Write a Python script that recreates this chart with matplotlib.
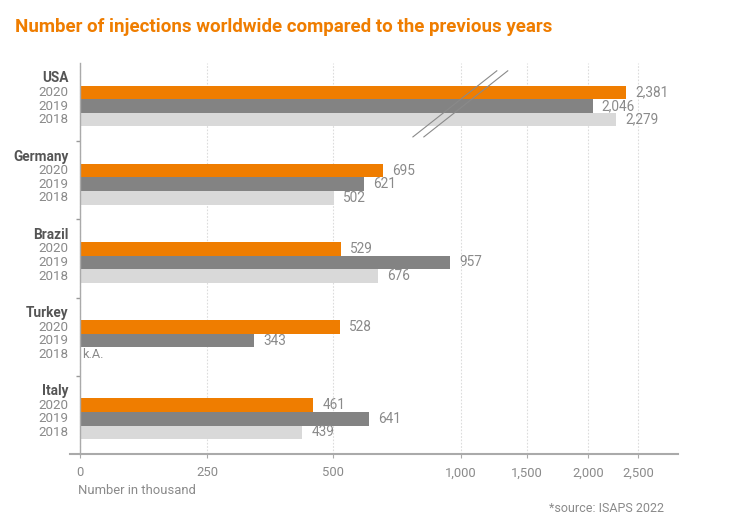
import numpy as np
import matplotlib
matplotlib.use("Agg")
import matplotlib.pyplot as plt
import matplotlib.transforms as mtransforms

# --- Daten ---
countries = ["USA", "Germany", "Brazil", "Turkey", "Italy"]
years = ["2020", "2019", "2018"]
values_2020 = [2381, 695, 529, 528, 461]
values_2019 = [2046, 621, 957, 343, 641]
values_2018 = [2279, 502, 676, None, 439]   # None = keine Angabe (k.A.)
xticks = [0, 250, 500, 1000, 1500, 2000, 2500]
colors = ["#EF7D00", "#838383", "#D9D9D9"]

# gebrochene Achse: Datenwert -> Position (Pixel ab Nulllinie)
scale_vals = [-100, 0, 250, 500, 1000, 1500, 2000, 2500, 3000]
scale_pos = [-50.8, 0, 127, 253, 381, 447, 508, 558, 606]


def fwd(x):
    return np.interp(x, scale_vals, scale_pos)


def inv(p):
    return np.interp(p, scale_pos, scale_vals)


plt.rcParams["font.family"] = ["Roboto", "DejaVu Sans"]

W, H = 730, 529
fig = plt.figure(figsize=(W / 100, H / 100), dpi=100)
ax = fig.add_axes([70 / W, 75 / H, 608 / W, 391 / H])
ax.set_xscale("function", functions=(fwd, inv))
ax.set_xlim(-20, inv(598))
ax.set_ylim(len(countries), 0)

bar_h = 0.174
offsets = [0.377, 0.551, 0.725]
series = [values_2020, values_2019, values_2018]

lab_trans = mtransforms.blended_transform_factory(ax.transAxes, ax.transData)

for i, country in enumerate(countries):
    ax.text(-0.002, i + 0.196, country, transform=lab_trans, ha="right", va="center",
            fontsize=9.8, fontweight="bold", color="#555555")
    for j, vals in enumerate(series):
        y = i + offsets[j]
        ax.text(-0.002, y, years[j], transform=lab_trans, ha="right", va="center",
                fontsize=9.6, color="#8a8a8a")
        v = vals[i]
        if v is None:
            ax.annotate("k.A.", (0, y), xytext=(1.5, 0), textcoords="offset points",
                        ha="left", va="center", fontsize=9.2, color="#8a8a8a")
            continue
        ax.barh(y, v, height=bar_h, left=0, color=colors[j], zorder=2)
        ax.annotate(f"{v:,}", (v, y), xytext=(6.5, 0), textcoords="offset points",
                    ha="left", va="center", fontsize=9.8, color="#8a8a8a")

# Achsen
ax.set_xticks(xticks)
ax.set_xticklabels([f"{t:,}" for t in xticks])
ax.tick_params(axis="x", length=3, width=0.8, color="#aaaaaa", pad=6,
               labelsize=9.4, labelcolor="#8a8a8a")
ax.set_yticks([])
ax.set_yticks([1, 2, 3, 4], minor=True)
ax.tick_params(axis="y", which="minor", length=3, width=1, color="#999999", direction="out")

ax.grid(axis="x", color="#dcdcdc", linestyle=(0, (1.5, 1.5)), linewidth=0.8, zorder=0)
ax.set_axisbelow(True)

for s in ["top", "right"]:
    ax.spines[s].set_visible(False)
ax.spines["left"].set_position(("data", 0))
ax.spines["left"].set_color("#aaaaaa")
ax.spines["left"].set_linewidth(1.0)
ax.spines["bottom"].set_color("#aaaaaa")
ax.spines["bottom"].set_linewidth(1.5)

# Markierung des Achsenbruchs
for dx in (0.0, 0.018):
    ax.plot([0.564 + dx, 0.702 + dx], [0.811, 0.980], transform=ax.transAxes,
            color="#8a8a8a", linewidth=0.8, clip_on=False, zorder=3)

fig.text(15 / W, 1 - 27 / H, "Number of injections worldwide compared to the previous years",
         fontsize=13.5, fontweight="bold", color="#EF7D00", ha="left", va="center")
fig.text(78 / W, 1 - 490 / H, "Number in thousand", fontsize=9.4, color="#8a8a8a",
         ha="left", va="center")
fig.text(664 / W, 1 - 509 / H, "*source: ISAPS 2022", fontsize=9.0, color="#8a8a8a",
         ha="right", va="center")

fig.savefig("out.png", dpi=100)
